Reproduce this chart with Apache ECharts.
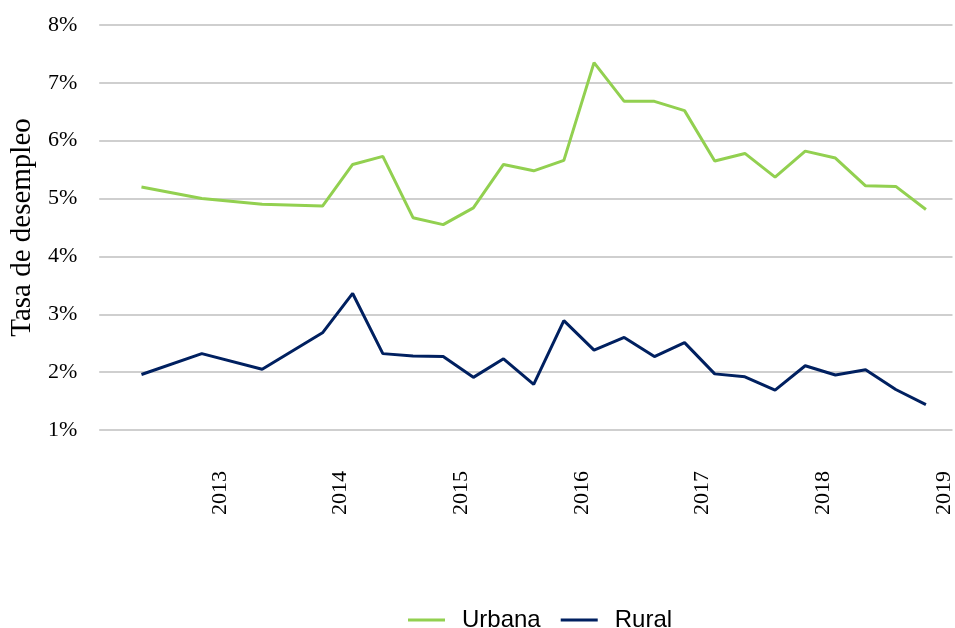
<!DOCTYPE html>
<html>
<head>
<meta charset="utf-8">
<title>Tasa de desempleo</title>
<script src="https://cdn.jsdelivr.net/npm/echarts@6.0.0/dist/echarts.min.js"></script>
<style>
  html, body { margin: 0; padding: 0; background: #fff; }
  #chart { width: 955px; height: 628px; }
</style>
</head>
<body>
<div id="chart"></div>
<script>
// periodos (año decimal del trimestre)
const periods = [2012.35, 2012.85, 2013.35, 2013.85, 2014.1, 2014.35, 2014.6, 2014.85,
  2015.1, 2015.35, 2015.6, 2015.85, 2016.1, 2016.35, 2016.6, 2016.85,
  2017.1, 2017.35, 2017.6, 2017.85, 2018.1, 2018.35, 2018.6, 2018.85]
// tasa de desempleo (%)
const urbana = [5.20, 5.00, 4.90, 4.87, 5.59, 5.73, 4.67, 4.55, 4.84, 5.59, 5.48, 5.66,
  7.35, 6.68, 6.68, 6.52, 5.65, 5.78, 5.37, 5.82, 5.70, 5.22, 5.21, 4.81]
const rural = [1.96, 2.32, 2.05, 2.68, 3.36, 2.32, 2.28, 2.27, 1.91, 2.23, 1.79, 2.89,
  2.38, 2.60, 2.27, 2.51, 1.97, 1.92, 1.69, 2.11, 1.95, 2.04, 1.70, 1.44]
const yearTicks = [2013, 2014, 2015, 2016, 2017, 2018, 2019]

const chart = echarts.init(document.getElementById('chart'))

const serif = 'Liberation Serif'

const option = {
  animation: false,
  grid: {
    left: 97,
    right: 0,
    top: 25,
    bottom: 198
  },
  legend: {
    left: 403,
    top: 603,
    itemWidth: 37,
    itemHeight: 3,
    itemGap: 20,
    icon: 'rect',
    textStyle: {
      fontFamily: 'Liberation Sans',
      fontSize: 24,
      color: '#000',
      padding: [0, 0, 0, 12]
    },
    data: ['Urbana', 'Rural']
  },
  xAxis: {
    type: 'value',
    min: 2012,
    max: 2019.07,
    interval: 1,
    axisLine: { show: false },
    axisTick: { show: false },
    splitLine: { show: false },
    axisLabel: {
      rotate: 90,
      margin: 41,
      fontFamily: serif,
      fontSize: 22,
      color: '#000',
      // solo los años, nada en los extremos
      formatter: v => (yearTicks.indexOf(v) >= 0 ? String(v) : '')
    }
  },
  yAxis: {
    type: 'value',
    min: 1,
    max: 8,
    interval: 1,
    name: 'Tasa de desempleo',
    nameLocation: 'middle',
    nameGap: 56,
    nameTextStyle: {
      fontFamily: serif,
      fontSize: 29,
      color: '#000'
    },
    axisLine: { show: false },
    axisTick: { show: false },
    axisLabel: {
      margin: 22,
      fontFamily: serif,
      fontSize: 22,
      color: '#000',
      formatter: '{value}%'
    },
    splitLine: {
      lineStyle: { color: '#bfbfbf', width: 1.5 }
    }
  },
  series: [
    {
      name: 'Urbana',
      type: 'line',
      symbol: 'none',
      color: '#92d050',
      lineStyle: { width: 3, color: '#92d050' },
      data: periods.map((p, i) => [p, urbana[i]])
    },
    {
      name: 'Rural',
      type: 'line',
      symbol: 'none',
      color: '#002060',
      lineStyle: { width: 3, color: '#002060' },
      data: periods.map((p, i) => [p, rural[i]])
    }
  ]
}

chart.setOption(option)
</script>
</body>
</html>
